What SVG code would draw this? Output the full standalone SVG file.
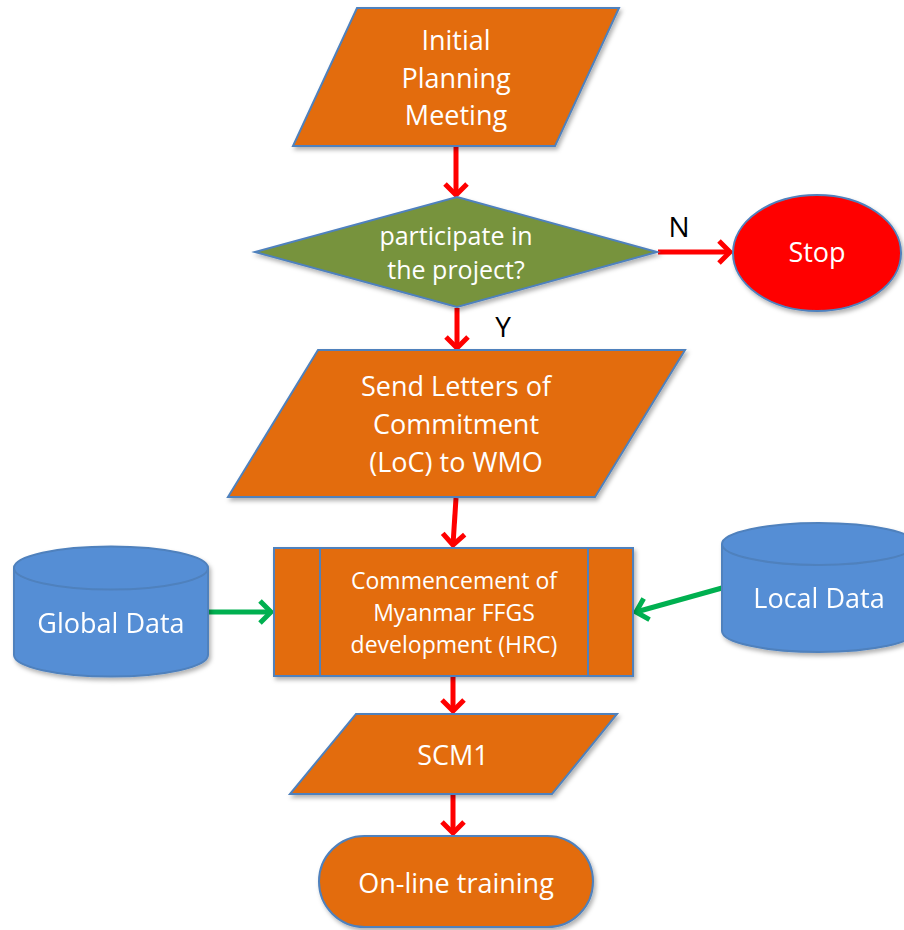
<svg xmlns="http://www.w3.org/2000/svg" width="904" height="930" viewBox="0 0 904 930">
<defs>
<filter id="sh" x="-10%" y="-10%" width="130%" height="140%">
<feDropShadow dx="2" dy="3" stdDeviation="2" flood-color="#000" flood-opacity="0.3"/>
</filter>
<marker id="ar" markerUnits="userSpaceOnUse" markerWidth="32" markerHeight="32" viewBox="-16 -16 32 32" refX="0" refY="0" orient="auto">
<path d="M-11,-11 L0,0 L-11,11" fill="none" stroke="#FF0000" stroke-width="5"/>
</marker>
<marker id="ag" markerUnits="userSpaceOnUse" markerWidth="32" markerHeight="32" viewBox="-16 -16 32 32" refX="0" refY="0" orient="auto">
<path d="M-11,-11 L0,0 L-11,11" fill="none" stroke="#00B050" stroke-width="5"/>
</marker>
</defs>
<style>
.or{fill:#E36C09;stroke:#4F81BD;stroke-width:2;filter:url(#sh)}
.gr{fill:#77933C;stroke:#4F81BD;stroke-width:2;filter:url(#sh)}
.rd{fill:#FF0000;stroke:#4F81BD;stroke-width:2;filter:url(#sh)}
.bl{fill:#558ED5;stroke:#4F81BD;stroke-width:2}
.ln{fill:none;stroke:#4F81BD;stroke-width:2}
.t{font-family:"Open Sans","Noto Sans",sans-serif;fill:#fff;text-anchor:middle;font-size:27px}
.s{font-size:25px}
.x{font-size:23px}
.k{font-family:"Open Sans","Noto Sans",sans-serif;fill:#000;text-anchor:middle;font-size:28px}
.cr{fill:none;stroke:#FF0000;stroke-width:5}
.cg{fill:none;stroke:#00B050;stroke-width:5}
</style>
<g id="connectors">
<line class="cr" x1="456" y1="147" x2="456" y2="195" marker-end="url(#ar)"/>
<line class="cr" x1="658" y1="252" x2="730" y2="252" marker-end="url(#ar)"/>
<line class="cr" x1="457" y1="308" x2="457" y2="348" marker-end="url(#ar)"/>
<line class="cr" x1="456" y1="498" x2="453" y2="545" marker-end="url(#ar)"/>
<line class="cr" x1="453" y1="677" x2="453" y2="711" marker-end="url(#ar)"/>
<line class="cr" x1="453" y1="795" x2="453" y2="833" marker-end="url(#ar)"/>
<line class="cg" x1="208" y1="612" x2="271" y2="612" marker-end="url(#ag)"/>
<line class="cg" x1="722" y1="588" x2="636" y2="612" marker-end="url(#ag)"/>
<text class="k" x="679" y="237">N</text>
<text class="k" x="503" y="337">Y</text>
</g>
<g id="initial">
<polygon class="or" points="357,8 619,8 555,146 293,146"/>
<text class="t" x="456" y="50">Initial</text>
<text class="t" x="456" y="88">Planning</text>
<text class="t" x="456" y="125">Meeting</text>
</g>
<g id="decision">
<polygon class="gr" points="457,197 657,252 457,307 255,252"/>
<text class="t s" x="456" y="245">participate in</text>
<text class="t s" x="456" y="279">the project?</text>
</g>
<g id="stop">
<ellipse class="rd" cx="817" cy="253" rx="84" ry="58"/>
<text class="t" x="817" y="262">Stop</text>
</g>
<g id="loc">
<polygon class="or" points="318,350 685,350 595,497 228,497"/>
<text class="t" x="456" y="396">Send Letters of</text>
<text class="t" x="456" y="434">Commitment</text>
<text class="t" x="456" y="472">(LoC) to WMO</text>
</g>
<g id="commence">
<rect class="or" x="274" y="548" width="359" height="128"/>
<line class="ln" x1="320" y1="548" x2="320" y2="676"/>
<line class="ln" x1="588" y1="548" x2="588" y2="676"/>
<text class="t x" x="454" y="589">Commencement of</text>
<text class="t x" x="454" y="621">Myanmar FFGS</text>
<text class="t x" x="454" y="653">development (HRC)</text>
</g>
<g id="global" filter="url(#sh)">
<path class="bl" d="M14,568 A97,21.5 0 0 1 208,568 L208,655 A97,21.5 0 0 1 14,655 Z"/>
<path class="ln" d="M14,568 A97,21.5 0 0 0 208,568"/>
<text class="t" x="111" y="633">Global Data</text>
</g>
<g id="local" filter="url(#sh)">
<path class="bl" d="M722,544 A97,21 0 0 1 916,544 L916,631 A97,21 0 0 1 722,631 Z"/>
<path class="ln" d="M722,544 A97,21 0 0 0 916,544"/>
<text class="t" x="819" y="608">Local Data</text>
</g>
<g id="scm1">
<polygon class="or" points="356,714 617,714 552,794 290,794"/>
<text class="t" x="453" y="765">SCM1</text>
</g>
<g id="training">
<rect class="or" x="319" y="836" width="274" height="91" rx="45.5" ry="45.5"/>
<text class="t" x="456" y="893">On-line training</text>
</g>
</svg>
